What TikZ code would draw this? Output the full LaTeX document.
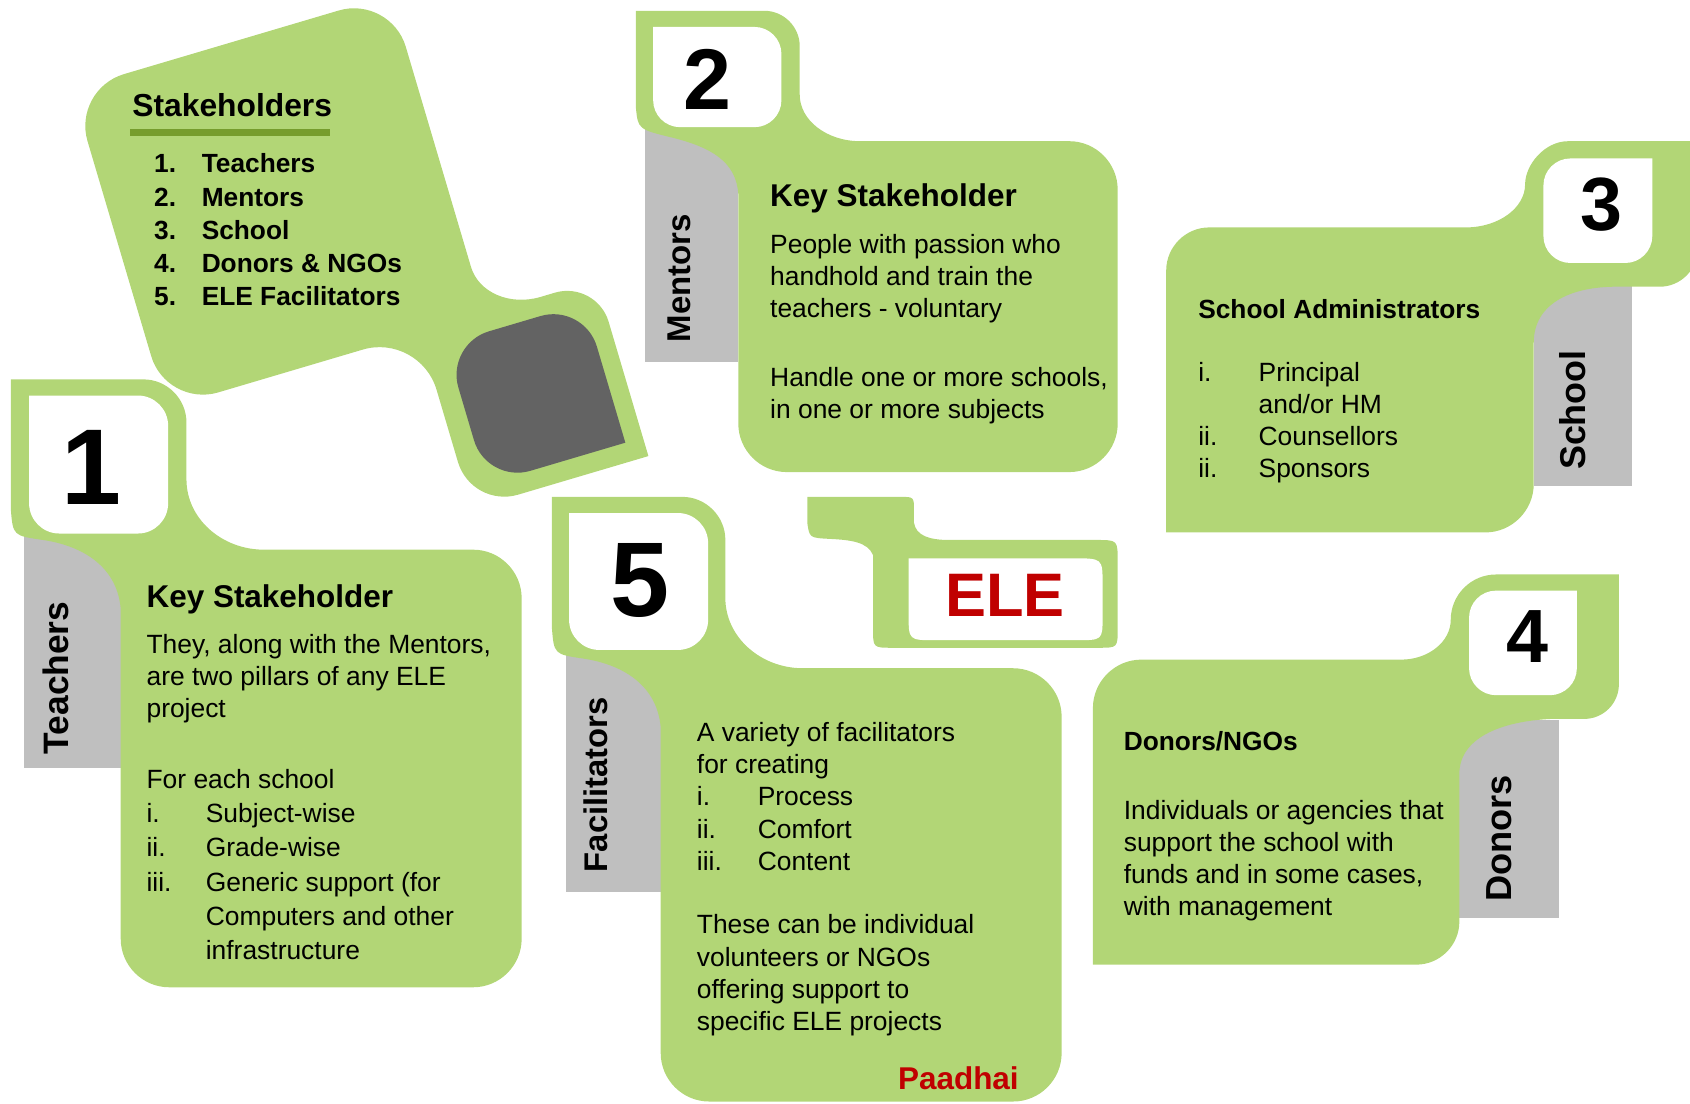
\documentclass[tikz,border=0pt]{standalone}
\usepackage{fontspec}
\setmainfont{Liberation Sans}
\definecolor{cardgreen}{RGB}{178,214,118}
\definecolor{stripgray}{RGB}{191,191,191}
\definecolor{handlegray}{RGB}{99,99,99}
\definecolor{linegreen}{RGB}{118,157,45}
\definecolor{elered}{RGB}{192,0,0}

\begin{document}
\begin{tikzpicture}[x=1pt,y=-1pt,
  card/.style={fill=cardgreen},
  strip/.style={fill=stripgray},
  numbox/.style={fill=white},
  body/.style={anchor=base west,inner sep=0pt,font=\fontsize{24.5}{29.6}\selectfont},
  head/.style={anchor=base west,inner sep=0pt,font=\fontsize{29.2}{35}\selectfont\bfseries},
  subhead/.style={anchor=base west,inner sep=0pt,font=\fontsize{24.4}{29.6}\selectfont\bfseries},
  side/.style={rotate=90,inner sep=0pt},
  bignum/.style={inner sep=0pt}]
\useasboundingbox (0,0) rectangle (1568,1024);
\clip (0,0) rectangle (1568,1024);

% stakeholders card, tilted
\begin{scope}[shift={(67,83)},rotate=16.5]
\fill[card] (0,50) .. controls (0,22.5) and (22.5,0) .. (50,0) -- (258,0) .. controls (285.5,0) and (308,22.5) .. (308,50) -- (308,263) .. controls (308,287.8) and (332.3,308) .. (362,308) -- (376,308) .. controls (398,308) and (416,326) .. (416,348) -- (416,478) -- (290,478) .. controls (265,478) and (245,458) .. (245,433) -- (245,363) .. controls (245,332.75) and (220.25,308) .. (190,308) -- (50,308) .. controls (22.5,308) and (0,285.5) .. (0,258) -- cycle;
\fill[handlegray] (265,367) .. controls (265,343.9) and (283.9,325) .. (307,325) -- (357,325) .. controls (380.1,325) and (399,343.9) .. (399,367) -- (399,460) -- (307,460) .. controls (283.9,460) and (265,441.1) .. (265,418) -- cycle;
\end{scope}
\node[head,font=\fontsize{29.5}{35}\selectfont\bfseries] (stk) at (122.6,108.3) {Stakeholders};
\fill[linegreen] (121,120) rectangle (306,126);
\node[subhead,font=\fontsize{24.4}{30.7}\selectfont\bfseries] (stklist) at (142.8,160.5) {\begin{tabular}[t]{@{}p{44.2pt}@{}l@{}}
1. & Teachers\\ 2. & Mentors\\ 3. & School\\ 4. & Donors \& NGOs\\ 5. & ELE Facilitators
\end{tabular}};

% 1 teachers
\fill[strip] (22,497) rectangle (112,713);
\fill[card] (10,352) -- (133,352) .. controls (155,352) and (173,370) .. (173,392) -- (173,445) .. controls (173,480.8) and (205.4,510) .. (245,510) -- (439,510) .. controls (463.75,510) and (484,530.25) .. (484,555) -- (484,871) .. controls (484,895.75) and (463.75,916) .. (439,916) -- (157,916) .. controls (132.25,916) and (112,895.75) .. (112,871) -- (112,565) .. controls (109,528) and (80,507) .. (40,501) .. controls (12,497) .. (10,472) -- cycle;
\fill[numbox] (27,367) -- (128,367) .. controls (143.4,367) and (156,379.6) .. (156,395) -- (156,467) .. controls (156,482.4) and (143.4,495) .. (128,495) -- (55,495) .. controls (39.6,495) and (27,482.4) .. (27,467) -- cycle;
\node[bignum,font=\fontsize{100}{100}\selectfont\bfseries] (n1) at (85,434) {1};
\node[side,font=\fontsize{32.8}{36}\selectfont\bfseries] (lteach) at (51.6,629) {Teachers};
\node[head] (t1head) at (135.8,563.7) {Key Stakeholder};
\node[body] (t1text) at (135.8,606.5) {\begin{tabular}[t]{@{}l@{}}
They, along with the Mentors,\\ are two pillars of any ELE\\ project
\end{tabular}};
\node[body,font=\fontsize{24.5}{31.8}\selectfont] (t1list) at (135.8,731.5) {\begin{tabular}[t]{@{}p{55pt}@{}l@{}}
\multicolumn{2}{@{}l@{}}{For each school}\\ i. & Subject-wise\\ ii. & Grade-wise\\ iii. & Generic support (for\\ & Computers and other\\ & infrastructure
\end{tabular}};

% 2 mentors
\fill[strip] (598,118) rectangle (685,336);
\fill[card] (590,10) -- (709,10) .. controls (727.15,10) and (742,24.85) .. (742,43) -- (742,88) .. controls (742,111.65) and (767.2,131) .. (798,131) -- (992,131) .. controls (1016.75,131) and (1037,151.25) .. (1037,176) -- (1037,393) .. controls (1037,417.75) and (1016.75,438) .. (992,438) -- (730,438) .. controls (705.25,438) and (685,417.75) .. (685,393) -- (685,180) .. controls (683,150) and (660,137) .. (625,128) .. controls (592,120) .. (590,100) -- cycle;
\fill[numbox] (606,25) -- (700,25) .. controls (713.75,25) and (725,36.25) .. (725,50) -- (725,93) .. controls (725,106.75) and (713.75,118) .. (700,118) -- (631,118) .. controls (617.25,118) and (606,106.75) .. (606,93) -- cycle;
\node[bignum,font=\fontsize{80}{80}\selectfont\bfseries] (n2) at (656,73.4) {2};
\node[side,font=\fontsize{30.6}{34}\selectfont\bfseries] (lment) at (630,258) {Mentors};
\node[head] (t2head) at (714.4,191.8) {Key Stakeholder};
\node[body] (t2text) at (714.4,235) {\begin{tabular}[t]{@{}l@{}}
People with passion who\\ handhold and train the\\ teachers - voluntary\\[35pt] Handle one or more schools,\\ in one or more subjects
\end{tabular}};

% 3 school
\fill[strip] (1423,264) rectangle (1514,451);
\fill[card] (1082,251) .. controls (1082,229) and (1100,211) .. (1122,211) -- (1360,211) .. controls (1390.25,211) and (1415,193) .. (1415,171) .. controls (1415,153) and (1433,131) .. (1455,131) -- (1575,131) -- (1575,231) .. controls (1575,250.25) and (1559.25,266) .. (1540,266) -- (1500,266) .. controls (1455,266) and (1423,283) .. (1423,318) -- (1423,449) .. controls (1423,473.75) and (1402.75,494) .. (1378,494) -- (1082,494) -- cycle;
\fill[numbox] (1457,147) -- (1533,147) -- (1533,219) .. controls (1533,232.75) and (1521.75,244) .. (1508,244) -- (1457,244) .. controls (1443.25,244) and (1432,232.75) .. (1432,219) -- (1432,172) .. controls (1432,158.25) and (1443.25,147) .. (1457,147) -- cycle;
\node[bignum,font=\fontsize{70}{70}\selectfont\bfseries] (n3) at (1485.5,190) {3};
\node[side,font=\fontsize{33.3}{36}\selectfont\bfseries] (lschool) at (1459,380.5) {School};
\node[subhead] (t3head) at (1111.6,295.4) {School Administrators};
\node[body] (t3list) at (1111.6,354.1) {\begin{tabular}[t]{@{}p{56pt}@{}l@{}}
i. & Principal\\ & and/or HM\\ ii. & Counsellors\\ ii. & Sponsors
\end{tabular}};

% 4 donors
\fill[strip] (1354,668) rectangle (1446,852);
\fill[card] (1014,657) .. controls (1014,632.25) and (1034.25,612) .. (1059,612) -- (1300,612) .. controls (1325.3,612) and (1346,595.35) .. (1346,575) .. controls (1346,551.9) and (1364.9,533) .. (1388,533) -- (1502,533) -- (1502,635) .. controls (1502,652.6) and (1487.6,667) .. (1470,667) -- (1440,667) .. controls (1392,669) and (1354,685) .. (1354,718) -- (1354,855) .. controls (1354,877) and (1336,895) .. (1314,895) -- (1014,895) -- cycle;
\fill[numbox] (1388,548) -- (1463,548) -- (1463,620) .. controls (1463,633.75) and (1451.75,645) .. (1438,645) -- (1388,645) .. controls (1374.25,645) and (1363,633.75) .. (1363,620) -- (1363,573) .. controls (1363,559.25) and (1374.25,548) .. (1388,548) -- cycle;
\node[bignum,font=\fontsize{70}{70}\selectfont\bfseries] (n4) at (1417,591) {4};
\node[side,font=\fontsize{33.6}{36}\selectfont\bfseries] (ldonor) at (1391,778) {Donors};
\node[subhead] (t4head) at (1042.5,696.5) {Donors/NGOs};
\node[body] (t4text) at (1042.5,760.2) {\begin{tabular}[t]{@{}l@{}}
Individuals or agencies that\\ support the school with\\ funds and in some cases,\\ with management
\end{tabular}};

% 5 facilitators
\fill[strip] (525,607) rectangle (613,828);
\fill[card] (512,461) -- (633,461) .. controls (655,461) and (673,479) .. (673,501) -- (673,555) .. controls (673,590.75) and (705.4,620) .. (745,620) -- (940,620) .. controls (964.75,620) and (985,640.25) .. (985,665) -- (985,977) .. controls (985,1001.75) and (964.75,1022) .. (940,1022) -- (658,1022) .. controls (633.25,1022) and (613,1001.75) .. (613,977) -- (613,675) .. controls (610,638) and (581,617) .. (541,611) .. controls (514,607) .. (512,582) -- cycle;
\fill[numbox] (528,476) -- (629,476) .. controls (644.4,476) and (657,488.6) .. (657,504) -- (657,575) .. controls (657,590.4) and (644.4,603) .. (629,603) -- (556,603) .. controls (540.6,603) and (528,590.4) .. (528,575) -- cycle;
\node[bignum,font=\fontsize{98.5}{100}\selectfont\bfseries] (n5) at (593.7,539) {5};
\node[side,font=\fontsize{30.4}{34}\selectfont\bfseries] (lfacil) at (553,728) {Facilitators};
\node[body,font=\fontsize{24.5}{29.75}\selectfont] (t5text) at (646.4,688.3) {\begin{tabular}[t]{@{}p{56.5pt}@{}l@{}}
\multicolumn{2}{@{}l@{}}{A variety of facilitators}\\ \multicolumn{2}{@{}l@{}}{for creating}\\ i. & Process\\ ii. & Comfort\\ iii. & Content\\[29.5pt]
\multicolumn{2}{@{}l@{}}{These can be individual}\\ \multicolumn{2}{@{}l@{}}{volunteers or NGOs}\\ \multicolumn{2}{@{}l@{}}{offering support to}\\ \multicolumn{2}{@{}l@{}}{specific ELE projects}
\end{tabular}};
\node[head,text=elered] (paadhai) at (833,1010.4) {Paadhai};

% ELE tag
\fill[card] (749,461) -- (835,461) .. controls (848,461) .. (848,474) -- (848,485) .. controls (850,497) and (862,501) .. (881,501) -- (1017,501) .. controls (1037,501) .. (1037,521) -- (1037,583) .. controls (1037,601) .. (1019,601) -- (828,601) .. controls (810,601) .. (810,583) -- (810,515) .. controls (805,503) and (790,501) .. (770,500) .. controls (751,499) .. (749,485) -- cycle;
\fill[numbox] (843,518) -- (995,518) .. controls (1023,518) .. (1023,542) -- (1023,572) .. controls (1023,594) .. (998,594) -- (868,594) .. controls (843,594) .. (843,570) -- cycle;
\node[bignum,font=\fontsize{57}{60}\selectfont\bfseries,text=elered] (ele) at (932.5,552.5) {ELE};
\end{tikzpicture}
\end{document}
